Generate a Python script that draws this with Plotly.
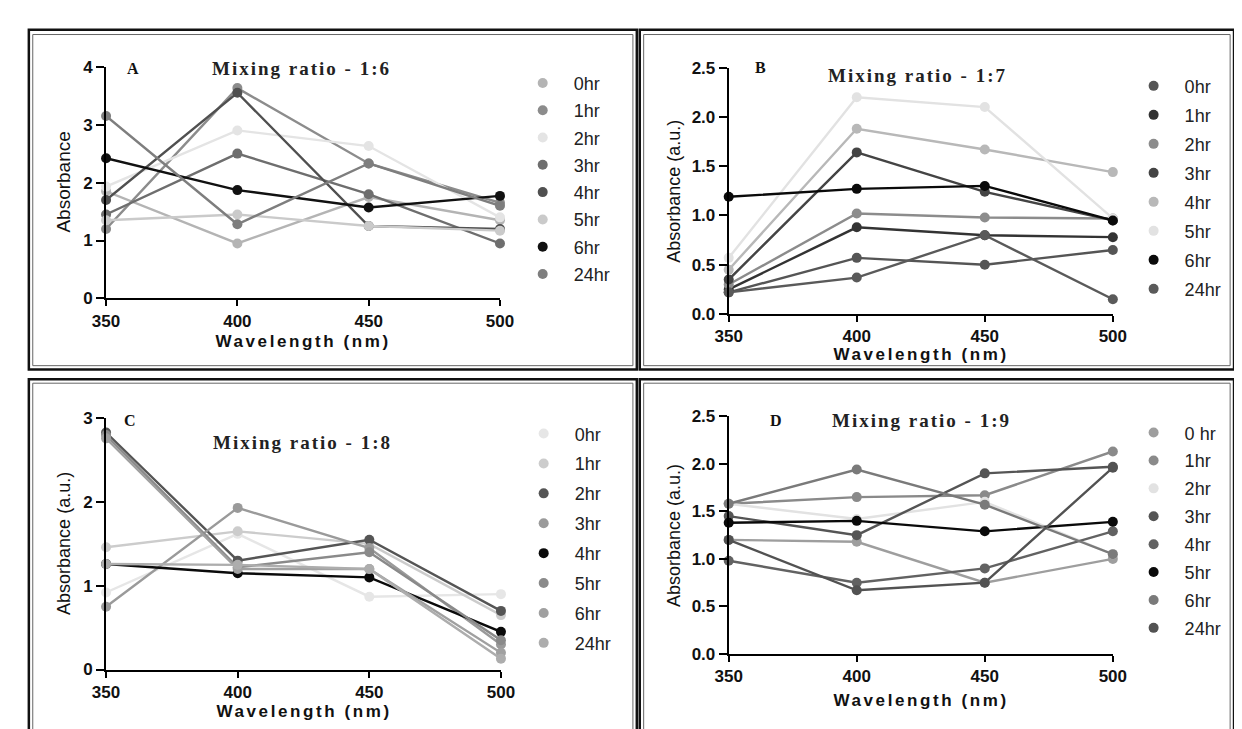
import plotly.graph_objects as go

W, H = 1242, 729

wavelength = [350, 400, 450, 500]
hours_A = ["0hr", "1hr", "2hr", "3hr", "4hr", "5hr", "6hr", "24hr"]
hours_B = ["0hr", "1hr", "2hr", "3hr", "4hr", "5hr", "6hr", "24hr"]
hours_C = ["0hr", "1hr", "2hr", "3hr", "4hr", "5hr", "6hr", "24hr"]
hours_D = ["0 hr", "1hr", "2hr", "3hr", "4hr", "5hr", "6hr", "24hr"]

# Panel A - Mixing ratio 1:6
A_values = [
    [1.85, 0.95, 1.75, 1.35],
    [1.20, 3.63, 2.33, 1.65],
    [1.93, 2.90, 2.63, 1.40],
    [1.45, 2.50, 1.80, 0.95],
    [1.70, 3.55, 1.25, 1.20],
    [1.35, 1.45, 1.25, 1.17],
    [2.42, 1.87, 1.57, 1.77],
    [3.15, 1.28, 2.33, 1.60],
]
A_colors = ["#b4b4b4", "#8c8c8c", "#e4e4e4", "#6e6e6e", "#505050", "#cacaca", "#111111", "#7e7e7e"]

# Panel B - Mixing ratio 1:7
B_values = [
    [0.22, 0.57, 0.50, 0.65],
    [0.25, 0.88, 0.80, 0.78],
    [0.30, 1.02, 0.98, 0.97],
    [0.35, 1.64, 1.24, 0.95],
    [0.45, 1.88, 1.67, 1.44],
    [0.57, 2.20, 2.10, 0.97],
    [1.19, 1.27, 1.30, 0.95],
    [0.22, 0.37, 0.80, 0.15],
]
B_colors = ["#555555", "#333333", "#8c8c8c", "#444444", "#b8b8b8", "#e2e2e2", "#0a0a0a", "#5a5a5a"]

# Panel C - Mixing ratio 1:8
C_values = [
    [0.92, 1.62, 0.87, 0.90],
    [1.46, 1.65, 1.50, 0.65],
    [2.83, 1.30, 1.55, 0.70],
    [0.75, 1.93, 1.45, 0.30],
    [1.26, 1.15, 1.10, 0.45],
    [2.80, 1.22, 1.40, 0.35],
    [2.76, 1.20, 1.20, 0.20],
    [1.26, 1.25, 1.20, 0.13],
]
C_colors = ["#e6e6e6", "#cccccc", "#555555", "#9a9a9a", "#0a0a0a", "#8a8a8a", "#a0a0a0", "#adadad"]

# Panel D - Mixing ratio 1:9
D_values = [
    [1.20, 1.18, 0.75, 1.00],
    [1.58, 1.65, 1.67, 2.13],
    [1.58, 1.42, 1.60, 1.05],
    [1.45, 1.25, 1.90, 1.97],
    [0.98, 0.75, 0.90, 1.29],
    [1.38, 1.40, 1.29, 1.39],
    [1.58, 1.94, 1.57, 1.05],
    [1.20, 0.67, 0.75, 1.96],
]
D_colors = ["#9e9e9e", "#8a8a8a", "#e2e2e2", "#555555", "#626262", "#0a0a0a", "#7a7a7a", "#525252"]

panels = [
    dict(key="A", title="Mixing ratio - 1:6", names=hours_A, vals=A_values, cols=A_colors,
         ytitle="Absorbance", ysize=19, yrange=[0, 4], dtick=1, fmt="d",
         x=(86, 489), y=(51, 289), letter=(114, 53), ttl=(286, 53),
         ytx=43, xty=333, leg=(532, 68), gap=27.3),
    dict(key="B", title="Mixing ratio - 1:7", names=hours_B, vals=B_values, cols=B_colors,
         ytitle="Absorbance (a.u.)", ysize=18, yrange=[0, 2.5], dtick=0.5, fmt=".1f",
         x=(723, 1116), y=(52, 305), letter=(756, 52), ttl=(917, 60),
         ytx=667, xty=347, leg=(1157, 71), gap=29),
    dict(key="C", title="Mixing ratio - 1:8", names=hours_C, vals=C_values, cols=C_colors,
         ytitle="Absorbance (a.u.)", ysize=18, yrange=[0, 3], dtick=1, fmt="d",
         x=(86, 490), y=(412, 670), letter=(111, 414), ttl=(287, 437),
         ytx=43, xty=713, leg=(533, 428), gap=29.9),
    dict(key="D", title="Mixing ratio - 1:9", names=hours_D, vals=D_values, cols=D_colors,
         ytitle="Absorbance (a.u.)", ysize=18, yrange=[0, 2.5], dtick=0.5, fmt=".1f",
         x=(723, 1116), y=(410, 654), letter=(771, 414), ttl=(920, 414),
         ytx=667, xty=702, leg=(1157, 427), gap=27.9),
]

def px(xv):
    return xv / W

def py(yv):
    return 1 - yv / H

fig = go.Figure()
annotations = []
shapes = []
layout_upd = {}

LEG_ITEM_H = 26.4

for i, p in enumerate(panels):
    n = i + 1
    xa = "x" if n == 1 else f"x{n}"
    ya = "y" if n == 1 else f"y{n}"
    legname = "legend" if n == 1 else f"legend{n}"
    for name, vals, col in zip(p["names"], p["vals"], p["cols"]):
        fig.add_trace(go.Scatter(
            x=wavelength, y=vals, mode="lines+markers", xaxis=xa, yaxis=ya,
            line=dict(color=col, width=2.4), marker=dict(color=col, size=10),
            showlegend=False, cliponaxis=False, name=name))
    for name, col in zip(p["names"], p["cols"]):
        fig.add_trace(go.Scatter(
            x=[None], y=[None], mode="markers", xaxis=xa, yaxis=ya,
            marker=dict(color=col, size=10), name=name, legend=legname,
            legendgroup=f"{p['key']}{name}", showlegend=True))
    axkey_x = "xaxis" if n == 1 else f"xaxis{n}"
    axkey_y = "yaxis" if n == 1 else f"yaxis{n}"
    common = dict(showgrid=False, zeroline=False, showline=True, linecolor="black",
                  linewidth=2, ticks="outside", tickcolor="black", tickwidth=2,
                  tickfont=dict(family="Liberation Sans", size=17, color="#111111",
                                weight="bold"))
    layout_upd[axkey_x] = dict(domain=[px(p["x"][0]), px(p["x"][1])], anchor=ya,
                               range=[350, 500], tickvals=wavelength, ticklen=6,
                               fixedrange=True, **common)
    layout_upd[axkey_y] = dict(domain=[py(p["y"][1]), py(p["y"][0])], anchor=xa,
                               range=p["yrange"], dtick=p["dtick"], tick0=0,
                               tickformat=p["fmt"], ticklen=8, fixedrange=True, **common)
    layout_upd[legname] = dict(x=px(p["leg"][0] - 31), y=py(p["leg"][1] - 19),
                               xanchor="left", yanchor="top", itemwidth=52,
                               tracegroupgap=max(0, p["gap"] - LEG_ITEM_H),
                               bgcolor="rgba(0,0,0,0)",
                               font=dict(family="Liberation Sans", size=18, color="#222222"))
    annotations.append(dict(text="<b>" + p["key"] + "</b>", x=px(p["letter"][0]),
                            y=py(p["letter"][1]),
                            xref="paper", yref="paper", showarrow=False,
                            font=dict(family="Liberation Serif", size=16, color="#111111"),
                            xanchor="center", yanchor="middle"))
    annotations.append(dict(text="<b>" + p["title"] + "</b>", x=px(p["ttl"][0]), y=py(p["ttl"][1]),
                            xref="paper", yref="paper", showarrow=False,
                            font=dict(family="Liberation Serif", size=19, color="#222222"),
                            xanchor="center", yanchor="middle"))
    annotations.append(dict(text=p["ytitle"], x=px(p["ytx"]),
                            y=py((p["y"][0] + p["y"][1]) / 2),
                            xref="paper", yref="paper", showarrow=False, textangle=-90,
                            font=dict(family="Liberation Sans", size=p["ysize"], color="#111111"),
                            xanchor="center", yanchor="middle"))
    annotations.append(dict(text="<b>Wavelength (nm)</b>", x=px((p["x"][0] + p["x"][1]) / 2),
                            y=py(p["xty"]), xref="paper", yref="paper", showarrow=False,
                            font=dict(family="Liberation Sans", size=17, color="#111111"),
                            xanchor="center", yanchor="middle"))

# panel frames (double border)
frames_outer = [(7, 13, 629, 362), (632, 13, 1240, 362), (7, 372, 629, 740), (632, 372, 1240, 740)]
frames_inner = [(11, 18, 625, 358), (636, 18, 1236, 358), (11, 376, 625, 740), (636, 376, 1236, 740)]
for (x0, y0, x1, y1) in frames_outer:
    shapes.append(dict(type="rect", xref="paper", yref="paper", x0=px(x0), x1=px(x1),
                       y0=py(y1), y1=py(y0), line=dict(color="#111111", width=2.5)))
for (x0, y0, x1, y1) in frames_inner:
    shapes.append(dict(type="rect", xref="paper", yref="paper", x0=px(x0), x1=px(x1),
                       y0=py(y1), y1=py(y0), line=dict(color="#666666", width=1)))

fig.update_layout(
    width=W, height=H, margin=dict(l=0, r=0, t=0, b=0),
    paper_bgcolor="white", plot_bgcolor="white",
    annotations=annotations, shapes=shapes, **layout_upd)

spacing_js = """
document.querySelectorAll('.annotation-text').forEach(function(t){
  var s = t.textContent || '';
  if (s.indexOf('Mixing') === 0) { t.style.letterSpacing = '2px'; }
  if (s.indexOf('Wavelength') === 0) { t.style.letterSpacing = '2.6px'; }
});
"""

fig.write_html("out.html", post_script=spacing_js)
